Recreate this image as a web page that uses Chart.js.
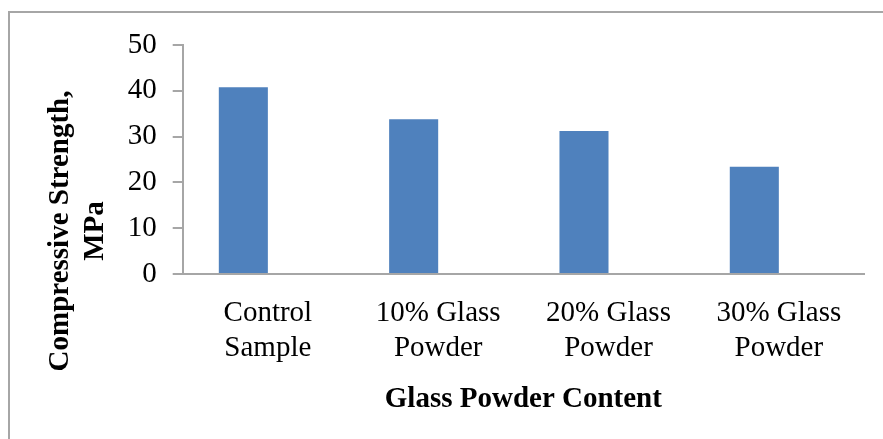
<!DOCTYPE html>
<html>
<head>
<meta charset="utf-8">
<script src="https://cdn.jsdelivr.net/npm/chart.js@4.4.0/dist/chart.umd.min.js"></script>
<style>
    html, body { margin: 0; padding: 0; background: #fff; }
    #wrap { position: relative; width: 883px; height: 439px; overflow: hidden; }
    #frame { position: absolute; left: 8px; top: 11px; width: 900px; height: 460px;
             border-left: 2px solid #a6a6a6; border-top: 2px solid #a6a6a6; }
    #chart { position: absolute; left: 0; top: 0; }
</style>
</head>
<body>
<div id="wrap">
    <div id="frame"></div>
    <canvas id="chart" width="883" height="439"></canvas>
</div>
<script>
const categories = [
    ['Control', 'Sample'],
    ['10% Glass', 'Powder'],
    ['20% Glass', 'Powder'],
    ['30% Glass', 'Powder']
]
const strength_values = [40.8, 33.8, 31.2, 23.4]
// second (empty) series in the original sheet pushes the bars left of centre
const empty_values = [null, null, null, null]
const y_ticks = [0, 10, 20, 30, 40, 50]
const x_title = 'Glass Powder Content'
const y_title = ['Compressive Strength,', 'MPa']

const axis_grey = '#a6a6a6'
const serif = '"Liberation Serif", "Times New Roman", serif'

// y title drawn by hand: in the original it sits lower than the plot centre
const yTitlePlugin = {
    id: 'yTitle',
    afterDraw(chart) {
        const ctx = chart.ctx;
        ctx.save();
        ctx.font = 'bold 29px ' + serif;
        ctx.fillStyle = '#000';
        ctx.textAlign = 'center';
        ctx.textBaseline = 'alphabetic';
        const xs = [68, 103];
        y_title.forEach(function(line, i) {
            ctx.save();
            ctx.translate(xs[i], 231);
            ctx.rotate(-Math.PI / 2);
            ctx.fillText(line, 0, 0);
            ctx.restore();
        });
        ctx.restore();
    }
};

window.onload = function() {
    const ctx = document.getElementById('chart').getContext('2d');

    const chart = new Chart(ctx, {
        type: 'bar',
        data: {
            labels: categories,
            datasets: [{
                data: strength_values,
                backgroundColor: '#4F81BD',
                categoryPercentage: 0.576,
                barPercentage: 1.0
            }, {
                data: empty_values,
                backgroundColor: '#C0504D',
                categoryPercentage: 0.576,
                barPercentage: 1.0
            }]
        },
        options: {
            responsive: false,
            animation: false,
            devicePixelRatio: 1,
            layout: { padding: { top: 45, right: 19, left: 0, bottom: 0 } },
            plugins: {
                legend: { display: false },
                tooltip: { enabled: false }
            },
            scales: {
                x: {
                    grid: { display: false, drawTicks: false },
                    border: { display: true, color: axis_grey, width: 2 },
                    ticks: {
                        color: '#000',
                        padding: 22,
                        maxRotation: 0,
                        autoSkip: false,
                        font: { family: serif, size: 29, lineHeight: 1.2 }
                    },
                    title: {
                        display: true,
                        text: x_title,
                        color: '#000',
                        padding: { top: 0, bottom: 22 },
                        font: { family: serif, size: 29, weight: 'bold', lineHeight: 1.2 }
                    },
                    afterFit: function(scale) { scale.height = 165; }
                },
                y: {
                    min: y_ticks[0],
                    max: y_ticks[y_ticks.length - 1],
                    afterBuildTicks: function(scale) {
                        scale.ticks = y_ticks.map(function(v) { return { value: v }; });
                    },
                    grid: {
                        display: true,
                        drawOnChartArea: false,
                        drawTicks: true,
                        tickLength: 10,
                        color: axis_grey,
                        lineWidth: 2
                    },
                    border: { display: true, color: axis_grey, width: 2 },
                    ticks: {
                        color: '#000',
                        padding: 16,
                        font: { family: serif, size: 29 }
                    },
                    afterFit: function(scale) { scale.width = 182.7; }
                }
            }
        },
        plugins: [yTitlePlugin]
    });
}
</script>
</body>
</html>
